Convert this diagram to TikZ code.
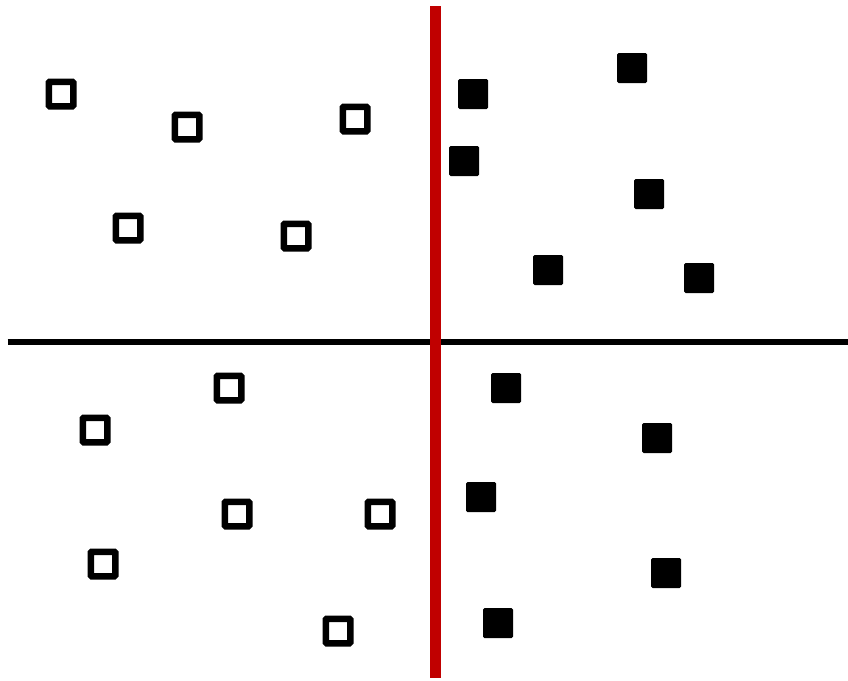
\documentclass[tikz,border=0pt]{standalone}
\usepackage{xcolor}
\usepackage{tikz}
\definecolor{splitred}{HTML}{C00000}

\begin{document}
\begin{tikzpicture}[x=1pt, y=-1pt,
  hollow/.style={draw=black, line width=6.5pt, rounded corners=1pt, fill=white,
    minimum size=24.5pt, inner sep=0pt},
  solid/.style={draw=none, rounded corners=1.5pt, fill=black,
    minimum size=30pt, inner sep=0pt},
  axis/.style={line width=6pt, draw=black},
  divider/.style={line width=11pt, draw=splitred}]
  \useasboundingbox (0,0) rectangle (848,680);
  % horizontal axis
  \coordinate (west) at (7.5,342);
  \coordinate (east) at (848,342);
  \draw[axis] (west) -- (east);
  % class A, open squares
  \foreach \name/\px/\py in {a1/61/94, a2/187/127, a3/355/119, a4/128/228,
      a5/296/236, a6/229/388, a7/95/430, a8/237/514, a9/380/514,
      a10/103/564, a11/338/631}
    \node[hollow] (\name) at (\px,\py) {};
  % class B, filled squares
  \foreach \name/\px/\py in {b1/473/94, b2/632/68, b3/464/161, b4/649/194,
      b5/548/270, b6/699/278, b7/506/388, b8/657/438, b9/481/497,
      b10/666/573, b11/498/623}
    \node[solid] (\name) at (\px,\py) {};
  % separating line
  \coordinate (top) at (435.5,6);
  \coordinate (bottom) at (435.5,678);
  \draw[divider] (top) -- (bottom);
\end{tikzpicture}
\end{document}
